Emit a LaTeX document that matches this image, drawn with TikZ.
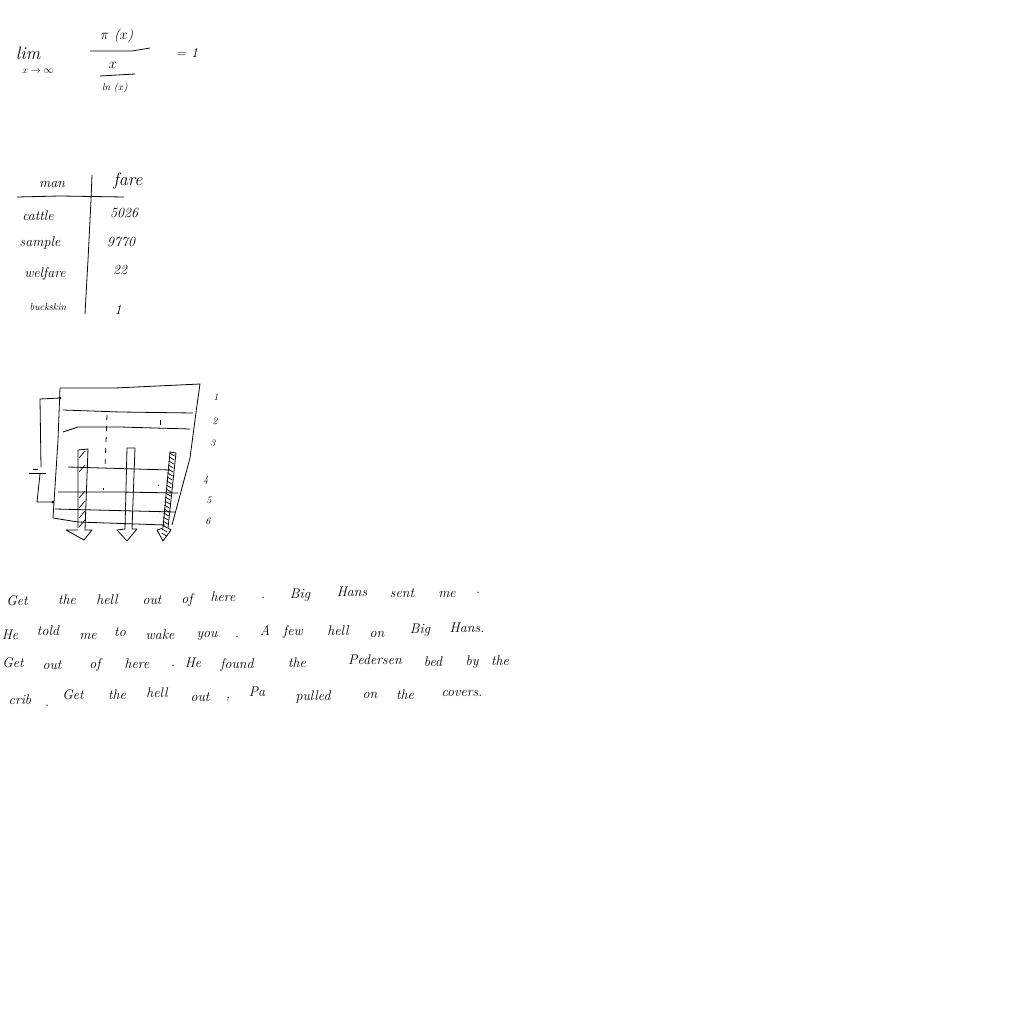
\documentclass[tikz,border=0pt]{standalone}
\usepackage{fontspec}
\tikzset{
  hand/.style={inner sep=0pt,font=\itshape\fontsize{14}{16}\selectfont\addfontfeatures{LetterSpace=10}},
  small hand/.style={inner sep=0pt,font=\itshape\fontsize{10}{12}\selectfont\addfontfeatures{LetterSpace=10}},
  big hand/.style={inner sep=0pt,font=\itshape\fontsize{18}{20}\selectfont},
  pen/.style={line width=0.8pt,line join=round},
  hatch/.style={line width=0.7pt}
}
\begin{document}
\begin{tikzpicture}[x=1pt,y=-1pt]
  \useasboundingbox[fill=white] (0,0) rectangle (1024,1024);
  % limit
  \node[big hand] (lim) at (28,53) {lim};
  \node[small hand] (limsub) at (38,71) {$x\to\infty$};
  \node[hand] (pix) at (117,36) {$\pi$ ($x$)};
  \node[hand] (xmid) at (113,65) {$x$};
  \node[small hand] (lnx) at (115,88) {ln ($x$)};
  \node[hand] (eqone) at (187,53) {= 1};
  \draw[pen] (90,51) -- (132,51) -- (150,48);
  \draw[pen] (100,76) -- (135,74);
  % table
  \node[hand] (man) at (52,184) {man};
  \node[big hand] (fare) at (128,181) {fare};
  \node[hand] (cattle) at (38,216) {cattle};
  \node[hand] (sample) at (40,243) {sample};
  \node[hand] (welfare) at (45,274) {welfare};
  \node[small hand] (buckskin) at (48,307) {buckskin};
  \node[hand] (cattlen) at (124,213) {5026};
  \node[hand] (samplen) at (121,242) {9770};
  \node[hand] (welfaren) at (120,270) {22};
  \node[hand] (buckskinn) at (118,310) {1};
  \draw[pen] (17,197) -- (60,196) -- (124,197);
  \draw[pen] (92,175) -- (91,200) -- (88,260) -- (85,314);
  % plates
  \draw[pen] (60,388) -- (115,388) -- (200,384) -- (197,405) -- (190,458) -- (172,525);
  \draw[pen] (60,388) -- (58,440) -- (53,518);
  \draw[pen] (63,410) -- (120,412) -- (193,413);
  \draw[pen] (63,432) -- (78,427) -- (120,427) -- (190,429);
  \draw[pen] (68,467) -- (170,470);
  \draw[pen] (58,492) -- (120,492) -- (178,493);
  \draw[pen] (55,509) -- (175,512);
  \draw[pen] (53,518) -- (78,522) -- (165,525);
  % battery
  \draw[pen] (60,398) -- (40,399) -- (41,467);
  \draw[pen] (33,469) -- (38,469);
  \draw[pen] (29,473) -- (46,473);
  \draw[pen] (40,474) -- (37,502) -- (53,502);
  \fill (60,398) circle (1.5);
  \fill (53,502) circle (1.5);
  % field lines
  \draw[pen,dash pattern=on 5pt off 6pt] (107,415) -- (105,468);
  \draw[pen] (103,488) -- (103,490);
  \draw[pen] (160,420) -- (160,425);
  \draw[pen] (158,485) -- (158,486);
  % beams
  \draw[pen] (78,528) -- (78,450) -- (88,449) -- (85,530) -- (92,530) -- (84,540) -- (66,530) -- (78,530);
  \draw[pen] (125,529) -- (127,448) -- (135,448) -- (132,529) -- (137,529) -- (127,541) -- (117,530) -- (125,529);
  \draw[pen] (163,528) -- (170,452) -- (176,453) -- (168,528) -- (171,530) -- (163,541) -- (157,530) -- (163,528);
  \foreach \y in {458,472,498,508,518,527}
    \draw[hatch] (79,\y) -- (85,\y-7);
  \foreach \y in {456,460,...,536}
    \draw[hatch] ({175-(\y-452)*0.1},\y) -- ({170-(\y-452)*0.1},\y-3);
  % plate numbers
  \foreach \n/\x/\y in {1/216/397,2/215/421,3/213/443,4/206/480,5/209/500,6/208/521}
    \node[small hand] (plate\n) at (\x,\y) {\n};
  % handwriting, word by word
  \foreach \x/\y/\w [count=\n] in {
    17/601/Get,67/600/the,107/600/hell,152/600/out,187/600/of,223/597/here,263/598/.,
    300/595/Big,352/592/Hans,402/593/sent,447/594/me,478/593/.,
    10/635/He,48/631/told,88/636/me,120/632/to,160/635/wake,207/636/you,237/637/.,
    265/630/A,293/632/few,338/631/hell,377/634/on,420/630/Big,467/628/Hans.,
    13/663/Get,52/665/out,95/665/of,137/664/here,173/666/.,193/663/He,237/665/found,
    297/663/the,375/660/Pedersen,433/662/bed,472/662/by,500/661/the,
    20/700/crib,47/706/.,73/695/Get,117/695/the,157/693/hell,200/697/out,228/699/{,},
    257/692/Pa,313/697/pulled,370/695/on,405/695/the,462/693/covers.}
    \node[hand] (word\n) at (\x,\y) {\w};
\end{tikzpicture}
\end{document}
